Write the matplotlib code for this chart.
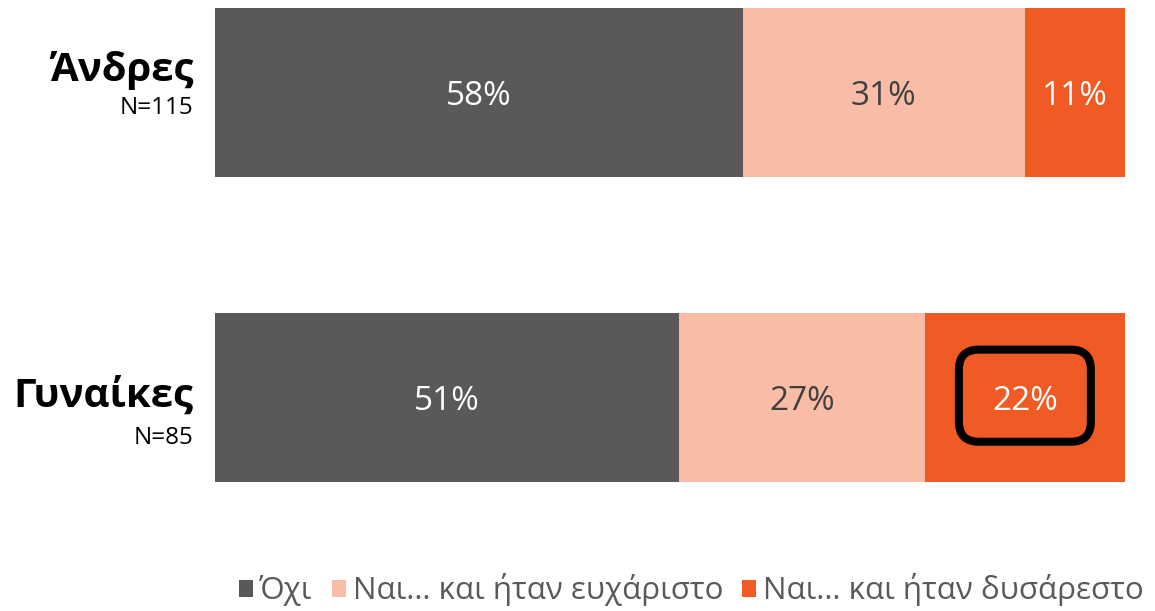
import numpy as np
import matplotlib.pyplot as plt
from matplotlib.patches import FancyBboxPatch, Patch

# Survey answers by gender (percent of respondents)
groups = ['Άνδρες', 'Γυναίκες']
sample_sizes = ['N=115', 'N=85']
answers = ['Όχι', 'Ναι… και ήταν ευχάριστο', 'Ναι… και ήταν δυσάρεστο']
shares = [
    [58, 51],   # Όχι
    [31, 27],   # Ναι... ευχάριστο
    [11, 22],   # Ναι... δυσάρεστο
]
colors = ['#595959', '#F9BCA7', '#F05A24']
label_colors = ['white', '#404040', 'white']

plt.rcParams['font.family'] = ['Open Sans', 'DejaVu Sans']

fig = plt.figure(figsize=(11.55, 6.11), dpi=100)
ax = fig.add_axes([215 / 1155, (611 - 482) / 611, 910 / 1155, 474 / 611])

ypos = np.array([1.0, 0.0])
bar_h = 0.554
left = np.zeros(len(groups))
for vals, col, lcol in zip(shares, colors, label_colors):
    vals = np.array(vals, dtype=float)
    ax.barh(ypos, vals, left=left, height=bar_h, color=col, edgecolor='none')
    for y, l, v in zip(ypos, left, vals):
        ax.text(l + v / 2, y - 0.012, f'{v:.0f}%', ha='center', va='center',
                color=lcol, fontsize=24)
    left += vals

ax.set_xlim(0, 100)
ax.set_ylim(-bar_h / 2, 1 + bar_h / 2)
ax.axis('off')

# Group names and sample sizes to the left of the bars
title_offsets = [0.072, 0.005]
n_offsets = [-0.052, -0.132]
for y, name, n, to, no in zip(ypos, groups, sample_sizes, title_offsets, n_offsets):
    ax.text(-2.4, y + to, name, ha='right', va='center', fontsize=29,
            fontweight='bold', color='black')
    ax.text(-2.4, y + no, n, ha='right', va='center', fontsize=17.5, color='black')

# Highlight the "unpleasant" share for women
xc = shares[0][1] + shares[1][1] + shares[2][1] / 2
w, h = 14.5, 0.302
box = FancyBboxPatch((xc - w / 2, ypos[1] + 0.006 - h / 2), w, h,
                     boxstyle='round,pad=0,rounding_size=2.2',
                     mutation_aspect=9.1 / 305, fc='none', ec='black', lw=5.8)
ax.add_patch(box)

handles = [Patch(facecolor=c, edgecolor='none') for c in colors]
fig.legend(handles, answers, loc='center', bbox_to_anchor=(691 / 1155, 1 - 590 / 611),
           ncol=3, frameon=False, handlelength=0.47, handleheight=0.47,
           handletextpad=0.2, columnspacing=0.6, labelcolor='#595959',
           prop={'family': ['Open Sans', 'DejaVu Sans'], 'size': 22.5})

fig.savefig('out.png', dpi=100)
